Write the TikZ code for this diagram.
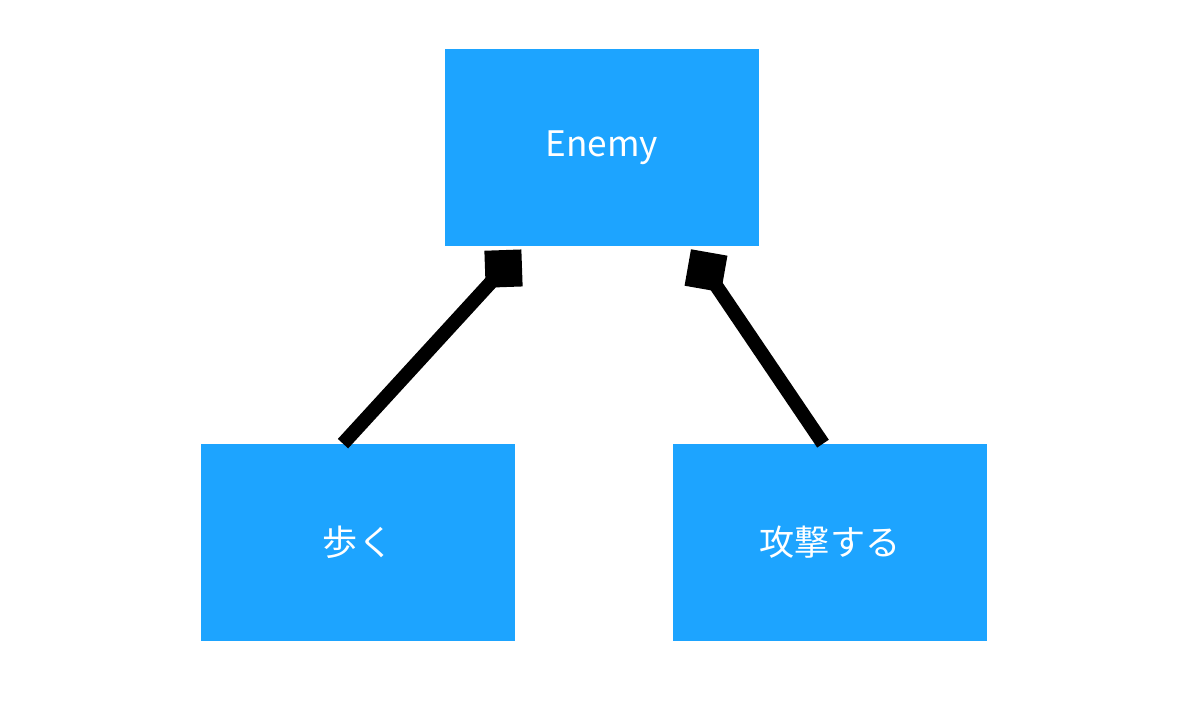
\documentclass[tikz,border=0pt]{standalone}
\usepackage{fontspec}
\setmainfont{Noto Sans CJK JP}
\definecolor{boxblue}{HTML}{1DA4FF}
\newcommand{\lowered}[1]{\raisebox{-0.07cm}{#1}}
\tikzset{
  box/.style={fill=boxblue, draw=none, minimum width=314*0.02cm, minimum height=197*0.02cm, inner sep=0pt, text=white, font=\fontsize{20}{24}\selectfont},
  conn/.style={line width=14*0.02cm},
  sq/.style={fill=black, draw=none, minimum size=37*0.02cm, inner sep=0pt, shape=rectangle},
}
\begin{document}
\begin{tikzpicture}[x=0.02cm, y=-0.02cm]
\useasboundingbox (0,0) rectangle (1200,716);
\node[box] (enemy) at (602,148) {\lowered{Enemy}};
\node[box] (walk) at (358,542.5) {\lowered{歩く}};
\node[box] (attack) at (830,542.5) {\lowered{攻撃する}};
\node[sq, rotate=2] (sqL) at (503.5,268.6) {};
\node[sq, rotate=-10] (sqR) at (706,270.7) {};
\draw[conn] ([xshift=-15*0.02cm]walk.north) -- (sqL.center);
\draw[conn] ([xshift=-7*0.02cm]attack.north) -- (sqR.center);
\end{tikzpicture}
\end{document}
